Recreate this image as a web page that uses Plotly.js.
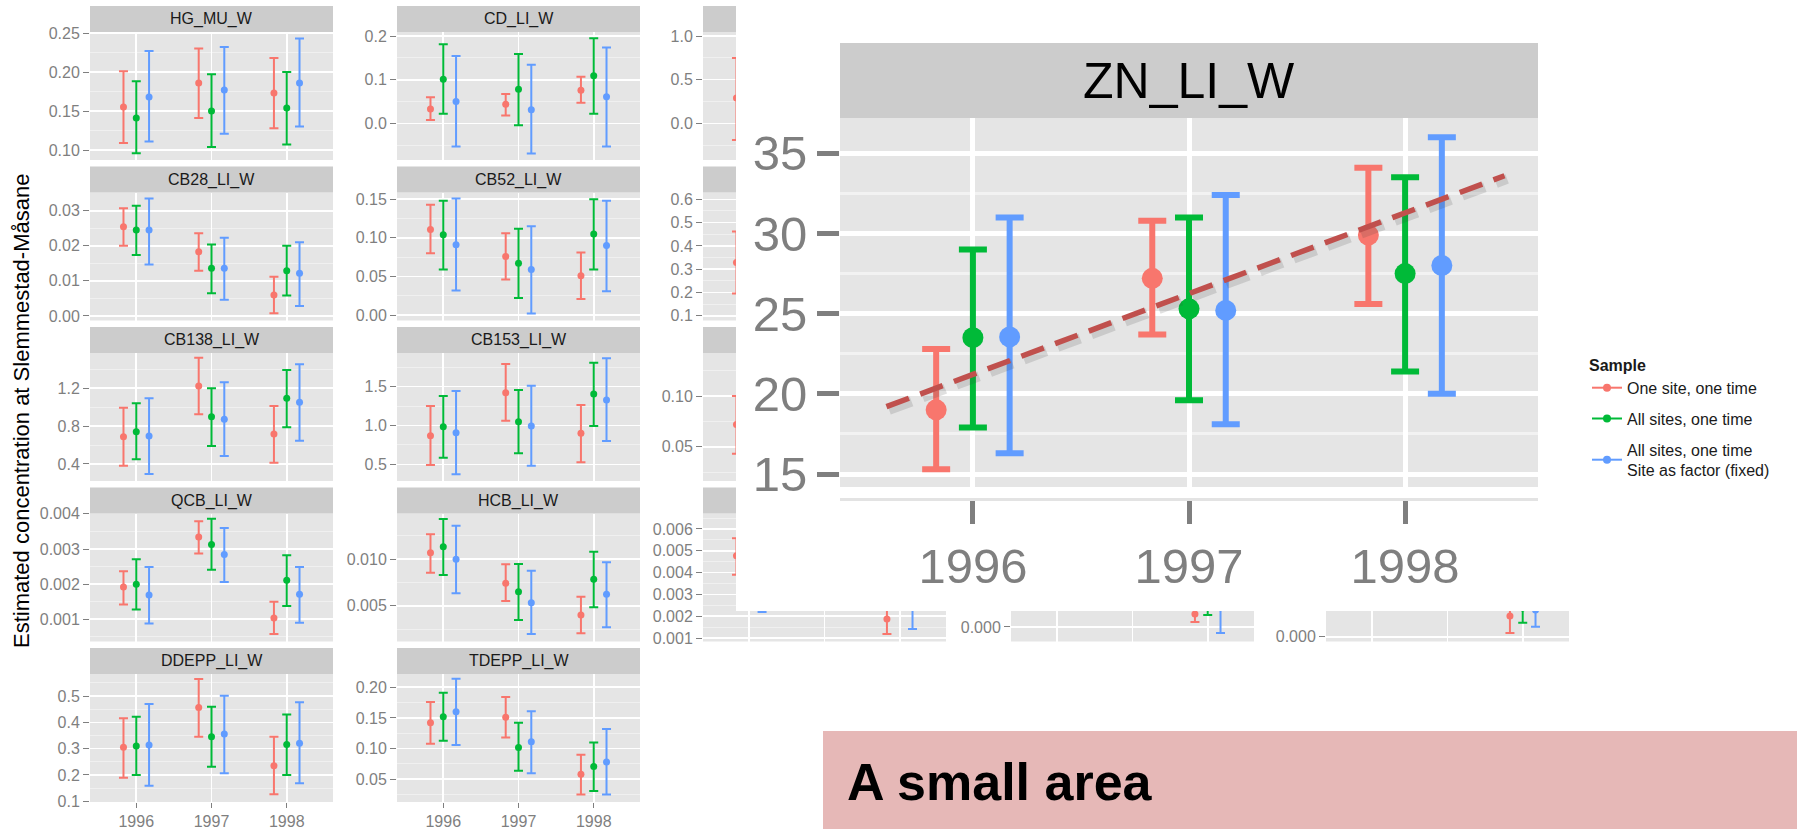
<!DOCTYPE html>
<html><head><meta charset="utf-8">
<script src="https://cdn.plot.ly/plotly-3.0.1.min.js"></script>
<style>html,body{margin:0;padding:0;background:#fff;}#chart{width:1797px;height:829px;}</style>
</head><body><div id="chart"></div>
<script>
// ---------- data ----------
const years = [1996, 1997, 1998];
const sampleNames = ['One site, one time', 'All sites, one time', 'All sites, one time<br>Site as factor (fixed)'];
// rows: One site one time / All sites one time / Site as factor; columns: 1996,1997,1998
const hgEst = [[0.155,0.186,0.173],[0.141,0.150,0.154],[0.168,0.177,0.186]];
const hgLo  = [[0.109,0.141,0.128],[0.096,0.104,0.107],[0.111,0.121,0.130]];
const hgHi  = [[0.201,0.230,0.218],[0.188,0.197,0.200],[0.227,0.232,0.243]];

const cb28Est = [[0.0254,0.0183,0.0060],[0.0245,0.0136,0.0129],[0.0245,0.0136,0.0122]];
const cb28Lo  = [[0.0200,0.0129,0.0008],[0.0174,0.0065,0.0058],[0.0147,0.0046,0.0028]];
const cb28Hi  = [[0.0307,0.0236,0.0112],[0.0314,0.0204,0.0200],[0.0335,0.0223,0.0210]];

const cb138Est = [[0.688,1.224,0.716],[0.741,0.900,1.094],[0.695,0.872,1.052]];
const cb138Lo  = [[0.381,0.925,0.413],[0.449,0.589,0.787],[0.293,0.484,0.646]];
const cb138Hi  = [[0.995,1.524,1.013],[1.041,1.200,1.394],[1.094,1.263,1.454]];

const qcbEst = [[0.00192,0.00334,0.00104],[0.00200,0.00313,0.00211],[0.00169,0.00284,0.00171]];
const qcbLo  = [[0.00142,0.00287,0.00058],[0.00128,0.00241,0.00138],[0.00088,0.00206,0.00090]];
const qcbHi  = [[0.00237,0.00379,0.00150],[0.00271,0.00386,0.00282],[0.00249,0.00360,0.00249]];

const ddeppEst = [[0.305,0.456,0.235],[0.310,0.345,0.316],[0.314,0.356,0.320]];
const ddeppLo  = [[0.189,0.345,0.126],[0.200,0.231,0.200],[0.159,0.206,0.168]];
const ddeppHi  = [[0.415,0.565,0.345],[0.421,0.459,0.430],[0.470,0.501,0.476]];

const cdEst = [[0.033,0.044,0.076],[0.101,0.078,0.109],[0.050,0.031,0.061]];
const cdLo  = [[0.008,0.018,0.047],[0.022,-0.004,0.022],[-0.053,-0.069,-0.053]];
const cdHi  = [[0.060,0.067,0.107],[0.181,0.159,0.195],[0.154,0.134,0.174]];

const cb52Est = [[0.111,0.076,0.051],[0.104,0.067,0.105],[0.091,0.059,0.090]];
const cb52Lo  = [[0.080,0.046,0.021],[0.059,0.022,0.059],[0.032,0.002,0.031]];
const cb52Hi  = [[0.143,0.106,0.081],[0.148,0.112,0.150],[0.151,0.115,0.148]];

const cb153Est = [[0.869,1.423,0.899],[0.985,1.049,1.406],[0.907,0.994,1.329]];
const cb153Lo  = [[0.491,1.062,0.526],[0.585,0.642,0.994],[0.371,0.482,0.800]];
const cb153Hi  = [[1.251,1.792,1.264],[1.380,1.457,1.809],[1.445,1.513,1.866]];

const hcbEst = [[0.01067,0.00740,0.00400],[0.01132,0.00650,0.00782],[0.00996,0.00532,0.00622]];
const hcbLo  = [[0.00853,0.00550,0.00204],[0.00829,0.00347,0.00483],[0.00633,0.00197,0.00269]];
const hcbHi  = [[0.01264,0.00943,0.00597],[0.01428,0.00946,0.01078],[0.01357,0.00875,0.00964]];

const tdeppEst = [[0.142,0.151,0.058],[0.152,0.102,0.071],[0.160,0.111,0.078]];
const tdeppLo  = [[0.108,0.118,0.025],[0.113,0.064,0.031],[0.106,0.060,0.025]];
const tdeppHi  = [[0.176,0.184,0.090],[0.191,0.142,0.110],[0.214,0.161,0.132]];

// panels partly hidden behind the zoomed inset (only visible parts read)
const c3aEst = [[0.289,null,null],[null,null,null],[null,null,null]];
const c3aLo  = [[-0.19,null,null],[null,null,null],[null,null,null]];
const c3aHi  = [[0.749,null,null],[null,null,null],[null,null,null]];
const c3bEst = [[0.329,null,null],[null,null,null],[null,null,null]];
const c3bLo  = [[0.196,null,null],[null,null,null],[null,null,null]];
const c3bHi  = [[0.462,null,null],[null,null,null],[null,null,null]];
const c3cEst = [[0.072,null,null],[null,null,null],[null,null,null]];
const c3cLo  = [[0.043,null,null],[null,null,null],[null,null,null]];
const c3cHi  = [[0.100,null,null],[null,null,null],[null,null,null]];
const c3dEst = [[0.00477,null,0.00187],[null,null,null],[0.0035,null,0.0030]];
const c3dLo  = [[0.00390,null,0.00118],[null,null,null],[0.00219,null,0.00141]];
const c3dHi  = [[0.00557,null,0.0026],[null,null,null],[0.0049,null,0.0045]];
const c4dEst = [[null,null,0.00203],[null,null,0.0035],[null,null,0.0030]];
const c4dLo  = [[null,null,0.00078],[null,null,0.00188],[null,null,-0.00094]];
const c4dHi  = [[null,null,0.0040],[null,null,0.0055],[null,null,0.0070]];
const c5dEst = [[null,null,0.00323],[null,null,0.0045],[null,null,0.0042]];
const c5dLo  = [[null,null,0.00058],[null,null,0.00219],[null,null,0.00156]];
const c5dHi  = [[null,null,0.0055],[null,null,0.0065],[null,null,0.0068]];
const bottomTicks = [0];

// zoomed panel ZN_LI_W
const znEst = [[19.0,27.2,29.9],[23.5,25.3,27.5],[23.55,25.2,28.0]];
const znLo  = [[15.3,23.7,25.6],[17.9,19.6,21.4],[16.3,18.1,20.0]];
const znHi  = [[22.8,30.8,34.1],[29.0,31.0,33.5],[31.0,32.4,36.0]];
const trendX = [1995.60, 1998.46];
const trendY = [19.2, 33.6];

// ---------- layout helpers ----------
const W = 1797, H = 829;
const fx = p => p / W;
const fy = p => 1 - p / H;
const FONT = 'Liberation Sans, Arial, Helvetica, sans-serif';
const colors = ['#F8766D', '#00BA38', '#619CFF'];
const dodge = [-0.17, 0, 0.17];
const colLeft = [90, 397, 703, 1011, 1326];
const panelW = 243, stripH = 26, panelH = 154;
const rowTop = r => 6 + 160.5 * r;
const xRange = [1995.385, 1998.615];

const panels = [
  {name:'HG_MU_W',   col:0,row:0,est:hgEst,lo:hgLo,hi:hgHi,yr:[0.0872,0.2513],dt:0.05,fmt:'.2f',xlab:false,label:true},
  {name:'CB28_LI_W', col:0,row:1,est:cb28Est,lo:cb28Lo,hi:cb28Hi,yr:[-0.0013,0.0352],dt:0.01,fmt:'.2f',xlab:false,label:true},
  {name:'CB138_LI_W',col:0,row:2,est:cb138Est,lo:cb138Lo,hi:cb138Hi,yr:[0.219,1.5735],dt:0.4,fmt:'.1f',xlab:false,label:true},
  {name:'QCB_LI_W',  col:0,row:3,est:qcbEst,lo:qcbLo,hi:qcbHi,yr:[0.000368,0.00401],dt:0.001,fmt:'.3f',xlab:false,label:true},
  {name:'DDEPP_LI_W',col:0,row:4,est:ddeppEst,lo:ddeppLo,hi:ddeppHi,yr:[0.097,0.5837],dt:0.1,fmt:'.1f',xlab:true,label:true},
  {name:'CD_LI_W',   col:1,row:0,est:cdEst,lo:cdLo,hi:cdHi,yr:[-0.0838,0.2092],dt:0.1,fmt:'.1f',xlab:false,label:true},
  {name:'CB52_LI_W', col:1,row:1,est:cb52Est,lo:cb52Lo,hi:cb52Hi,yr:[-0.007,0.1588],dt:0.05,fmt:'.2f',xlab:false,label:true},
  {name:'CB153_LI_W',col:1,row:2,est:cb153Est,lo:cb153Lo,hi:cb153Hi,yr:[0.285,1.934],dt:0.5,fmt:'.1f',xlab:false,label:true},
  {name:'HCB_LI_W',  col:1,row:3,est:hcbEst,lo:hcbLo,hi:hcbHi,yr:[0.00117,0.01487],dt:0.005,fmt:'.3f',xlab:false,label:true},
  {name:'TDEPP_LI_W',col:1,row:4,est:tdeppEst,lo:tdeppLo,hi:tdeppHi,yr:[0.0129,0.2217],dt:0.05,fmt:'.2f',xlab:true,label:true},
  {name:'',col:2,row:0,est:c3aEst,lo:c3aLo,hi:c3aHi,yr:[-0.4204,1.0458],dt:0.5,fmt:'.1f',xlab:false,label:false,strip:true},
  {name:'',col:2,row:1,est:c3bEst,lo:c3bLo,hi:c3bHi,yr:[0.0798,0.6292],dt:0.1,fmt:'.1f',xlab:false,label:false,strip:true},
  {name:'',col:2,row:2,est:c3cEst,lo:c3cLo,hi:c3cHi,yr:[0.0162,0.1424],dt:0.05,fmt:'.2f',xlab:false,label:false,strip:true},
  {name:'',col:2,row:3,est:c3dEst,lo:c3dLo,hi:c3dHi,yr:[0.00084,0.00671],dt:0.001,fmt:'.3f',xlab:false,label:false,strip:true},
  {name:'',col:3,row:3,est:c4dEst,lo:c4dLo,hi:c4dHi,yr:[-0.00227,0.01773],dt:0.005,fmt:'.3f',xlab:false,label:false,strip:false,yt:bottomTicks},
  {name:'',col:4,row:3,est:c5dEst,lo:c5dLo,hi:c5dHi,yr:[-0.00075,0.0193],dt:0.005,fmt:'.3f',xlab:false,label:false,strip:false,yt:bottomTicks}
];

const data = [];
const shapes = [];
const annotations = [];
const layout = {
  width: W, height: H, margin: {l:0, r:0, t:0, b:0},
  paper_bgcolor: '#ffffff', plot_bgcolor: '#e5e5e5',
  font: {family: FONT, color: '#1a1a1a'},
  showlegend: true, hovermode: false,
  legend: {x: fx(1587), y: fy(350), xanchor: 'left', yanchor: 'top', bgcolor: 'rgba(0,0,0,0)',
           title: {text: '<b>Sample</b>', font: {size: 16, color: '#1a1a1a'}},
           font: {size: 16, color: '#1a1a1a'}, tracegroupgap: 7, itemwidth: 30}
};

const axName = (a, k) => k === 1 ? a + 'axis' : a + 'axis' + k;
const axId = (a, k) => k === 1 ? a : a + k;

function addSeries(k, est, lo, hi, offs, opt) {
  for (let s = 0; s < 3; s++) {
    if (est[s].every(v => v === null)) continue;
    data.push({
      type: 'scatter', mode: 'markers', xaxis: axId('x', k), yaxis: axId('y', k),
      x: years.map(y => y + offs[s]), y: est[s],
      error_y: {type: 'data', symmetric: false,
        array: est[s].map((v, i) => v === null ? null : hi[s][i] - v),
        arrayminus: est[s].map((v, i) => v === null ? null : v - lo[s][i]),
        color: colors[s], thickness: opt.thick, width: opt.cap},
      marker: {color: colors[s], size: opt.size},
      showlegend: false, hoverinfo: 'skip', cliponaxis: true
    });
  }
}

panels.forEach((p, i) => {
  const k = i + 1;
  const L = colLeft[p.col], T = rowTop(p.row);
  layout[axName('x', k)] = {
    domain: [fx(L), fx(L + panelW)], range: xRange, anchor: axId('y', k),
    tickmode: 'array', tickvals: years, showticklabels: p.xlab, ticks: p.xlab ? 'outside' : '',
    ticklen: 5, tickwidth: 1, tickcolor: '#7f7f7f', tickfont: {size: 16, color: '#7f7f7f', family: FONT},
    showgrid: true, gridcolor: '#ffffff', gridwidth: 1.6, zeroline: false, showline: false, fixedrange: true
  };
  const yax = {
    domain: [fy(T + panelH), fy(T + stripH)], range: p.yr, anchor: axId('x', k),
    tick0: 0, dtick: p.dt, tickformat: p.fmt, ticks: 'outside', ticklen: 6, tickwidth: 1, tickcolor: '#7f7f7f',
    tickfont: {size: 16, color: '#7f7f7f', family: FONT},
    showgrid: true, gridcolor: '#ffffff', gridwidth: 1.6,
    minor: {tick0: 0, dtick: p.dt / 2, showgrid: true, gridcolor: '#f2f2f2', gridwidth: 0.8, ticks: ''},
    zeroline: false, showline: false, fixedrange: true
  };
  if (p.yt) { yax.tickmode = 'array'; yax.tickvals = p.yt; delete yax.minor; }
  layout[axName('y', k)] = yax;
  if (p.label || p.strip) {
    shapes.push({type: 'rect', xref: 'paper', yref: 'paper', layer: 'below',
      x0: fx(L), x1: fx(L + panelW), y0: fy(T + stripH), y1: fy(T), fillcolor: '#cccccc', line: {width: 0}});
  }
  if (p.label) {
    annotations.push({text: p.name, xref: 'paper', yref: 'paper', x: fx(L + panelW / 2), y: fy(T + stripH / 2),
      showarrow: false, xanchor: 'center', yanchor: 'middle', font: {size: 16, color: '#1a1a1a', family: FONT}});
  }
  addSeries(k, p.est, p.lo, p.hi, dodge, {thick: 2, cap: 4.5, size: 7});
});

// ---------- white cover of the zoomed inset ----------
const kc = panels.length + 1;
layout[axName('x', kc)] = {domain: [fx(736), fx(1575)], range: [0, 1], visible: false, anchor: axId('y', kc), fixedrange: true};
layout[axName('y', kc)] = {domain: [fy(611), 1], range: [0, 1], visible: false, anchor: axId('x', kc), fixedrange: true};
shapes.push({type: 'rect', xref: axId('x', kc), yref: axId('y', kc), layer: 'below',
  x0: 0, x1: 1, y0: 0, y1: 1, fillcolor: '#ffffff', line: {width: 0}});
for (let s = 0; s < 3; s++) {
  data.push({type: 'scatter', mode: 'lines+markers', xaxis: axId('x', kc), yaxis: axId('y', kc),
    x: [null], y: [null], name: sampleNames[s], legendgroup: 'g' + s,
    line: {color: colors[s], width: 2}, marker: {color: colors[s], size: 8}, showlegend: true, hoverinfo: 'skip'});
}

// ---------- zoomed panel ----------
const kz = kc + 1;
layout[axName('x', kz)] = {
  domain: [fx(840), fx(1538)], range: xRange, anchor: 'free', position: fy(499),
  tickmode: 'array', tickvals: years, ticks: 'outside', ticklen: 23, tickwidth: 5, tickcolor: '#7f7f7f',
  tickfont: {size: 49, color: '#7f7f7f', family: FONT}, ticklabelstandoff: 0,
  showline: true, linecolor: '#e3e3e3', linewidth: 3,
  showgrid: true, gridcolor: '#ffffff', gridwidth: 5, zeroline: false, fixedrange: true
};
layout[axName('y', kz)] = {
  domain: [fy(487), fy(118)], range: [14.19, 37.2], anchor: axId('x', kz),
  tick0: 0, dtick: 5, ticks: 'outside', ticklen: 22, tickwidth: 5, tickcolor: '#7f7f7f',
  tickfont: {size: 49, color: '#7f7f7f', family: FONT},
  showgrid: true, gridcolor: '#ffffff', gridwidth: 5,
  minor: {tick0: 0, dtick: 2.5, showgrid: true, gridcolor: '#f2f2f2', gridwidth: 3, ticks: ''},
  zeroline: false, showline: false, fixedrange: true
};
addSeries(kz, znEst, znLo, znHi, dodge, {thick: 6, cap: 14, size: 21});
data.push({type: 'scatter', mode: 'lines', xaxis: axId('x', kz), yaxis: axId('y', kz),
  x: trendX.map(v => v + 0.012), y: trendY.map(v => v - 0.2),
  line: {color: 'rgba(60,60,60,0.16)', width: 10, dash: '24px,12px'}, showlegend: false, hoverinfo: 'skip'});
data.push({type: 'scatter', mode: 'lines', xaxis: axId('x', kz), yaxis: axId('y', kz),
  x: trendX, y: trendY,
  line: {color: '#c0504d', width: 5.5, dash: '24px,12px'}, showlegend: false, hoverinfo: 'skip'});

shapes.push({type: 'rect', xref: 'paper', yref: 'paper', layer: 'above',
  x0: fx(840), x1: fx(1538), y0: fy(118), y1: fy(43), fillcolor: '#cccccc', line: {width: 0}});
annotations.push({text: 'ZN_LI_W', xref: 'paper', yref: 'paper', x: fx(1189), y: fy(81),
  showarrow: false, xanchor: 'center', yanchor: 'middle', font: {size: 50, color: '#000000', family: FONT}});

// ---------- y title and caption box ----------
annotations.push({text: 'Estimated concentration at Slemmestad-Måsane', xref: 'paper', yref: 'paper',
  x: fx(21), y: fy(411), textangle: -90, showarrow: false, xanchor: 'center', yanchor: 'middle',
  font: {size: 22, color: '#000000', family: FONT}});
shapes.push({type: 'rect', xref: 'paper', yref: 'paper', layer: 'above',
  x0: fx(823), x1: 1, y0: 0, y1: fy(731), fillcolor: '#e6b8b7', line: {width: 0}});
annotations.push({text: '<b>A small area</b>', xref: 'paper', yref: 'paper', x: fx(845), y: fy(782),
  showarrow: false, xanchor: 'left', yanchor: 'middle', font: {size: 52, color: '#000000', family: FONT}});

layout.shapes = shapes;
layout.annotations = annotations;

Plotly.newPlot('chart', data, layout, {staticPlot: true, displayModeBar: false});
</script>
</body></html>
